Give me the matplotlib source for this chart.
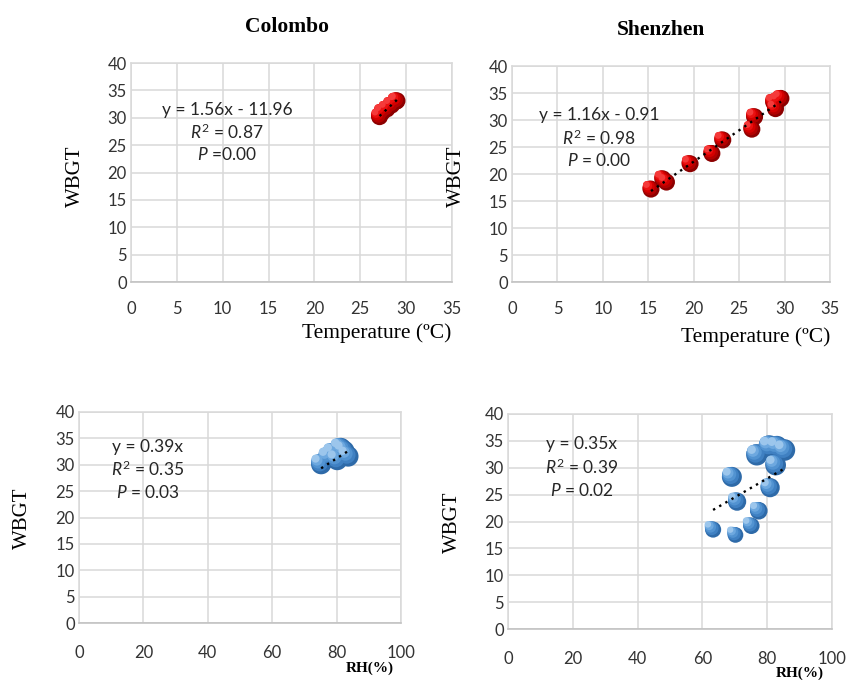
import matplotlib
matplotlib.use('Agg')
import matplotlib.pyplot as plt
import matplotlib.transforms as mtransforms
import numpy as np

plt.rcParams['font.family'] = 'Lato'
plt.rcParams['mathtext.fontset'] = 'custom'
plt.rcParams['mathtext.rm'] = 'Lato'
plt.rcParams['mathtext.it'] = 'Lato:italic'

# Colombo, temperature vs WBGT
col_t = [27.1, 27.4, 27.9, 28.4, 28.9, 29.0]
col_t_wbgt = [30.2, 31.0, 31.6, 32.3, 33.0, 33.1]
# Shenzhen, temperature vs WBGT
shz_t = [15.3, 16.6, 17.0, 19.6, 22.0, 23.2, 26.4, 26.7, 28.8, 29.0, 29.3, 29.6]
shz_t_wbgt = [17.2, 19.1, 18.5, 21.9, 23.8, 26.3, 28.3, 30.6, 33.3, 32.1, 33.6, 34.0]
# Colombo, RH vs WBGT
col_rh = [75.2, 77.5, 79.0, 80.2, 81.3, 82.3, 83.6]
col_rh_wbgt = [30.1, 31.4, 32.2, 30.9, 33.1, 32.6, 31.6]
# Shenzhen, RH vs WBGT
shz_rh = [63.3, 70.2, 75.1, 77.4, 70.7, 69.1, 80.9, 82.6, 76.8, 80.7, 83.0, 85.3]
shz_rh_wbgt = [18.5, 17.5, 19.2, 22.0, 23.7, 28.3, 26.3, 30.5, 32.4, 34.0, 33.9, 33.3]

fits = {
    'tl': (1.56, -11.96, ['y = 1.56x - 11.96', '$R^2$ = 0.87', '$P$ =0.00']),
    'tr': (1.16, -0.91, ['y = 1.16x - 0.91', '$R^2$ = 0.98', '$P$ = 0.00']),
    'bl': (0.39, 0.0, ['y = 0.39x', '$R^2$ = 0.35', '$P$ = 0.03']),
    'br': (0.35, 0.0, ['y = 0.35x', '$R^2$ = 0.39', '$P$ = 0.02']),
}

W, H = 848, 680
fig = plt.figure(figsize=(W / 100, H / 100), dpi=100)


def box(l, r, t, b):
    return [l / W, 1 - b / H, (r - l) / W, (b - t) / H]


def style(ax, xmax, xstep, xpad):
    ax.set_xlim(0, xmax)
    ax.set_ylim(0, 40)
    ax.set_xticks(np.arange(0, xmax + 1, xstep))
    ax.set_yticks(np.arange(0, 41, 5))
    ax.grid(True, color='#d9d9d9', lw=1.1)
    ax.set_axisbelow(True)
    for s in ax.spines.values():
        s.set_color('#d9d9d9')
        s.set_linewidth(1.1)
    ax.spines['bottom'].set_color('#bfbfbf')
    ax.tick_params(length=0, labelsize=12, colors='#333333')
    ax.tick_params(axis='x', pad=xpad)
    ax.tick_params(axis='y', pad=3)


def trend(ax, x, key):
    m, b, lines = fits[key]
    xx = np.linspace(min(x), max(x), 20)
    ax.plot(xx, m * xx + b, ls=(0, (1, 2)), color='black', lw=1.7, zorder=10)


def notes(ax, key, xc, y0, dy):
    for i, s in enumerate(fits[key][2]):
        fig.text(xc / W, 1 - (y0 + i * dy) / H, s, ha='center', va='center',
                 fontsize=12.5, color='#262626')


def balls(ax, x, y, s, colors):
    # layered circles shifted up-left give a shaded sphere look
    s = np.asarray(s, dtype=float)
    n = len(colors)
    for k, c in enumerate(colors):
        f = 1 - 0.75 * k / n
        d = np.sqrt(s) * 0.5 * (1 - f) * 0.9
        tr = mtransforms.offset_copy(ax.transData, fig=fig, x=-d.mean(), y=d.mean(),
                                     units='points')
        ax.scatter(x, y, s=s * f * f, color=c, lw=0, zorder=3 + k, transform=tr)


serif = 'Liberation Serif'
reds = ['#8c0000', '#b30000', '#d40000', '#ea1010', '#f53a3a']
blues = ['#2e6aa8', '#3f80c2', '#5293d1', '#6da8df', '#9cc6ec']

ax1 = fig.add_axes(box(131, 452, 63, 282))
style(ax1, 35, 5, 14)
balls(ax1, col_t, col_t_wbgt, [150] * len(col_t), reds)
trend(ax1, col_t, 'tl')
notes(ax1, 'tl', 227, 110, 22.5)
fig.text(287 / W, 1 - 27 / H, 'Colombo', ha='center', va='center', fontsize=15.5,
         fontweight='bold', family=serif)
fig.text(75 / W, 1 - 176 / H, 'WBGT', ha='center', va='center', rotation=90,
         fontsize=15, family=serif)
fig.text(377 / W, 1 - 333 / H, 'Temperature (ºC)', ha='center', va='center',
         fontsize=15.5, family=serif)

ax2 = fig.add_axes(box(512, 830, 66, 282))
style(ax2, 35, 5, 14)
balls(ax2, shz_t, shz_t_wbgt, [150] * len(shz_t), reds)
trend(ax2, shz_t, 'tr')
notes(ax2, 'tr', 599, 115, 23)
fig.text(661 / W, 1 - 30 / H, 'Shenzhen', ha='center', va='center', fontsize=15.5,
         fontweight='bold', family=serif)
fig.text(456 / W, 1 - 176 / H, 'WBGT', ha='center', va='center', rotation=90,
         fontsize=15, family=serif)
fig.text(756 / W, 1 - 337 / H, 'Temperature (ºC)', ha='center', va='center',
         fontsize=15.5, family=serif)

ax3 = fig.add_axes(box(79, 401, 412, 623))
style(ax3, 100, 20, 16)
balls(ax3, col_rh, col_rh_wbgt, np.array(col_rh_wbgt) * 7.0, blues)
trend(ax3, col_rh, 'bl')
notes(ax3, 'bl', 148, 447, 22.5)
fig.text(22 / W, 1 - 518 / H, 'WBGT', ha='center', va='center', rotation=90,
         fontsize=15, family=serif)
fig.text(370 / W, 1 - 668 / H, 'RH(%)', ha='center', va='center', fontsize=11,
         fontweight='bold', family=serif)

ax4 = fig.add_axes(box(508, 832, 414, 629))
style(ax4, 100, 20, 16)
balls(ax4, shz_rh, shz_rh_wbgt, np.array(shz_rh_wbgt) * 7.3, blues)
trend(ax4, shz_rh, 'br')
notes(ax4, 'br', 582, 444, 23)
fig.text(452 / W, 1 - 522 / H, 'WBGT', ha='center', va='center', rotation=90,
         fontsize=15, family=serif)
fig.text(800 / W, 1 - 673 / H, 'RH(%)', ha='center', va='center', fontsize=11,
         fontweight='bold', family=serif)

fig.savefig('out.png', dpi=100)
